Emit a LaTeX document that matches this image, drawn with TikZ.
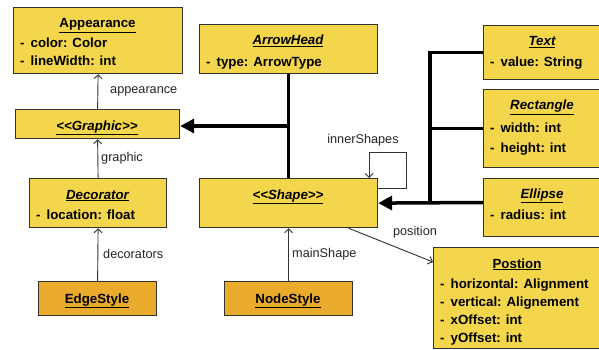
\documentclass[tikz,border=0pt]{standalone}
\usepackage{fontspec}
\setmainfont{Liberation Sans}[Ligatures=TeXOff]
\usetikzlibrary{arrows.meta,calc}
\definecolor{boxyellow}{HTML}{F3D64C}
\definecolor{boxorange}{HTML}{EAAA2C}
\definecolor{edgegray}{HTML}{333333}
\begin{document}
\begin{tikzpicture}[x=1pt,y=-1pt,
  umlbox/.style={draw=edgegray,line width=1.2pt,fill=boxyellow,anchor=north west,inner sep=0pt},
  stylebox/.style={umlbox,fill=boxorange},
  ttl/.style={anchor=base,inner sep=0pt,font=\fontsize{13.3}{15}\selectfont\bfseries},
  attr/.style={anchor=base west,inner sep=0pt,font=\fontsize{13.3}{15}\selectfont\bfseries},
  lbl/.style={inner sep=0pt,font=\fontsize{12.7}{15}\selectfont,text=black!85},
  assoc/.style={draw=edgegray,line width=0.9pt,-{Straight Barb[length=4pt,width=8pt]}},
  inherit/.style={draw=black,line width=3.5pt,-{Triangle[length=14pt,width=14pt]}},
  bus/.style={draw=black,line width=3.5pt}]
\useasboundingbox (0,0) rectangle (599,350);
\fill[white] (0,0) rectangle (599,350);

% boxes
\node[umlbox,minimum width=169pt,minimum height=66pt] (app) at (13,7) {};
\node[umlbox,minimum width=164pt,minimum height=29pt] (gra) at (15,109) {};
\node[umlbox,minimum width=137pt,minimum height=49pt] (dec) at (29,178) {};
\node[stylebox,minimum width=118pt,minimum height=34pt] (edge) at (38,281) {};
\node[umlbox,minimum width=178pt,minimum height=49pt] (arr) at (199,24) {};
\node[umlbox,minimum width=178pt,minimum height=49pt] (shape) at (199,178) {};
\node[stylebox,minimum width=128pt,minimum height=34pt] (nstyle) at (224,281) {};
\node[umlbox,minimum width=120pt,minimum height=54pt] (text) at (483,25) {};
\node[umlbox,minimum width=120pt,minimum height=78pt] (rect) at (483,89) {};
\node[umlbox,minimum width=120pt,minimum height=58pt] (ell) at (483,178) {};
\node[umlbox,minimum width=170pt,minimum height=101pt] (pos) at (433,247) {};

% texts
\node[ttl] at (97.5,28) {\underline{Appearance}};
\node[attr] at (20,48) {-\hspace{6pt}color: Color};
\node[attr] at (20,66) {-\hspace{6pt}lineWidth: int};
\node[ttl] at (97,130) {\underline{\itshape <<Graphic>>}};
\node[ttl] at (97.5,199) {\underline{\itshape Decorator}};
\node[attr] at (36,219) {-\hspace{6pt}location: float};
\node[ttl] at (97,303) {\underline{EdgeStyle}};
\node[ttl] at (288,45) {\underline{\itshape ArrowHead}};
\node[attr] at (206,67) {-\hspace{6pt}type: ArrowType};
\node[ttl] at (288,199) {\underline{\itshape <<Shape>>}};
\node[ttl] at (288,303) {\underline{NodeStyle}};
\node[ttl] at (542,46) {\underline{\itshape Text}};
\node[attr] at (490,67) {-\hspace{6pt}value: String};
\node[ttl] at (542,110) {\underline{\itshape Rectangle}};
\node[attr] at (490,132) {-\hspace{6pt}width: int};
\node[attr] at (490,152) {-\hspace{6pt}height: int};
\node[ttl] at (542,198) {\underline{\itshape Ellipse}};
\node[attr] at (490,219) {-\hspace{6pt}radius: int};
\node[ttl] at (517,268) {\underline{Postion}};
\node[attr] at (440,288) {-\hspace{6pt}horizontal: Alignment};
\node[attr] at (440,306) {-\hspace{6pt}vertical: Alignement};
\node[attr] at (440,324) {-\hspace{6pt}xOffset: int};
\node[attr] at (440,342) {-\hspace{6pt}yOffset: int};

% thin associations
\draw[assoc] (gra.north) -- (app.south);
\node[lbl,anchor=west] at (110,91) {appearance};
\draw[assoc] (dec.north) -- (gra.south);
\node[lbl,anchor=west] at (101,158) {graphic};
\draw[assoc] (edge.north) -- (dec.south);
\node[lbl,anchor=west] at (103,254) {decorators};
\draw[assoc] (nstyle.north) -- (shape.south);
\node[lbl,anchor=west] at (292,254) {mainShape};
\draw[assoc] ($(shape.south)+(60,0)$) -- ($(pos.north west)+(0,15)$);
\node[lbl] at (415,232) {position};
\draw[assoc] ($(shape.north east)+(0,10)$) -- ++(28,0) -- ++(0,-36) -| ($(shape.north east)+(-9,0)$);
\node[lbl] at (363,140) {innerShapes};

% inheritance
\coordinate (j) at (288,126);
\draw[bus] (arr.south) -- (shape.north);
\draw[inherit] (j) -- (j -| gra.east);
\coordinate (b) at (430,202.5);
\draw[inherit] (b -| ell.west) -- (shape.east);
\draw[bus] (text.west) -| (b);
\draw[bus] (rect.west) -- (rect.west -| b);
\end{tikzpicture}
\end{document}
